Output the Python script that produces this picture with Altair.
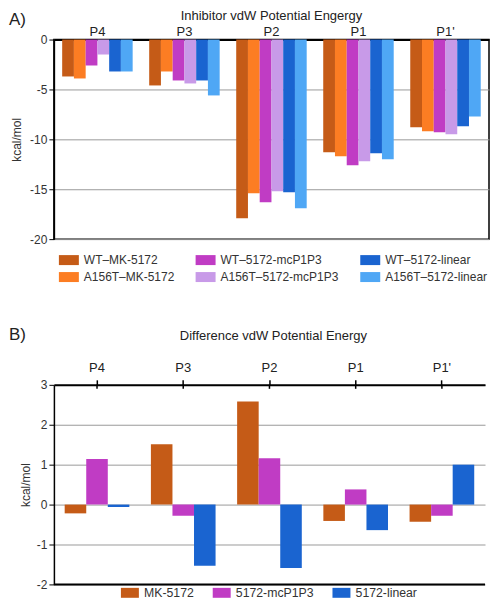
import altair as alt
import pandas as pd

positions = ["P4", "P3", "P2", "P1", "P1'"]

# Panel A: inhibitor vdW potential energy (kcal/mol)
series_a = ["WT–MK-5172", "A156T–MK-5172", "WT–5172-mcP1P3",
            "A156T–5172-mcP1P3", "WT–5172-linear", "A156T–5172-linear"]
wt_mk = [-3.7, -4.6, -17.9, -11.3, -8.8]
a156t_mk = [-3.9, -3.2, -15.4, -11.7, -9.2]
wt_mc = [-2.6, -4.1, -16.3, -12.6, -9.3]
a156t_mc = [-1.5, -4.4, -15.2, -12.2, -9.5]
wt_lin = [-3.2, -4.1, -15.3, -11.4, -8.7]
a156t_lin = [-3.2, -5.6, -16.9, -12.0, -7.7]
colors_a = ["#c55b17", "#fc7d23", "#c03cc4", "#c89ae8", "#1a64d0", "#4fa7f5"]

# Panel B: difference vdW potential energy (kcal/mol)
series_b = ["MK-5172", "5172-mcP1P3", "5172-linear"]
diff_mk = [-0.22, 1.51, 2.58, -0.41, -0.43]
diff_mc = [1.14, -0.28, 1.16, 0.38, -0.28]
diff_lin = [-0.06, -1.53, -1.59, -0.64, 1.0]
colors_b = ["#c55b17", "#c03cc4", "#1a64d0"]

panel_labels = ["A)", "B)"]
titles = ["Inhibitor vdW Potential Engergy", "Difference vdW Potential Energy"]

FONT = "Liberation Sans"

rows_a = []
for s, vals in zip(series_a, [wt_mk, a156t_mk, wt_mc, a156t_mc, wt_lin, a156t_lin]):
    for p, v in zip(positions, vals):
        rows_a.append({"pos": p, "series": s, "value": v})
df_a = pd.DataFrame(rows_a)

rows_b = []
for s, vals in zip(series_b, [diff_mk, diff_mc, diff_lin]):
    for p, v in zip(positions, vals):
        rows_b.append({"site": p, "compound": s, "diff": v})
df_b = pd.DataFrame(rows_b)

WA, HA = 436, 200
WB, HB = 432, 200


def text_layer(label, x, y, size, align):
    return alt.Chart(pd.DataFrame({"t": [label]})).mark_text(
        align=align, baseline="middle", fontSize=size, font=FONT, color="#222"
    ).encode(x=alt.value(x), y=alt.value(y), text="t:N")


bars_a = alt.Chart(df_a).mark_bar().encode(
    x=alt.X("pos:N", sort=positions, title=None,
            scale=alt.Scale(paddingInner=0.19, paddingOuter=0.095),
            axis=alt.Axis(orient="top", ticks=False, labelAngle=0, labelFontSize=13,
                          labelColor="#222", labelPadding=1, domainColor="black",
                          domainWidth=2, labelFont=FONT)),
    xOffset=alt.XOffset("series:N", sort=series_a,
                        scale=alt.Scale(paddingInner=0, paddingOuter=0)),
    y=alt.Y("value:Q", title="kcal/mol",
            scale=alt.Scale(domain=[-20, 0], nice=False),
            axis=alt.Axis(values=[0, -5, -10, -15, -20], labelFontSize=12, labelColor="#333",
                          labelPadding=2, tickSize=5, tickColor="black", domainColor="black",
                          domainWidth=1.5, gridColor="#9a9a9a", titleFontSize=12,
                          titleFontWeight="normal", titleColor="#333", titlePadding=6,
                          labelOverlap=False,
                          labelExpr="replace(datum.label, '\u2212', '-')")),
    color=alt.Color("series:N",
                    scale=alt.Scale(domain=series_a, range=colors_a),
                    legend=alt.Legend(title=None, orient="none", legendX=8, legendY=214,
                                      columns=3, columnPadding=20, rowPadding=4, padding=0,
                                      symbolType="M-1.5,-0.75H1.5V0.75H-1.5Z",
                                      symbolSize=178, symbolStrokeWidth=0, labelOffset=8,
                                      labelFontSize=12, labelColor="#333", labelFont=FONT)),
)

chart_a = alt.layer(
    bars_a,
    text_layer(panel_labels[0], -45, -20, 17, "left"),
    text_layer(titles[0], WA / 2, -24, 13, "center"),
).properties(
    width=WA, height=HA,
    view=alt.ViewBackground(stroke="black", strokeWidth=1.5),
)

bars_b = alt.Chart(df_b).mark_bar().encode(
    x=alt.X("site:N", sort=positions, title=None,
            scale=alt.Scale(paddingInner=0.25, paddingOuter=0.125),
            axis=alt.Axis(orient="top", ticks=True, tickSize=5, tickColor="black",
                          tickWidth=1.5, labelAngle=0, labelFontSize=13,
                          labelColor="#222", labelPadding=5, domainColor="black",
                          domainWidth=2, labelFont=FONT)),
    xOffset=alt.XOffset("compound:N", sort=series_b,
                        scale=alt.Scale(paddingInner=0, paddingOuter=0)),
    y=alt.Y("diff:Q", title="kcal/mol",
            scale=alt.Scale(domain=[-2, 3], nice=False),
            axis=alt.Axis(values=[3, 2, 1, 0, -1, -2], labelFontSize=12, labelColor="#333",
                          labelPadding=2, tickSize=5, tickColor="black", domainColor="black",
                          domainWidth=1.5, gridColor="#9a9a9a", titleFontSize=12,
                          titleFontWeight="normal", titleColor="#333", titlePadding=4,
                          labelOverlap=False,
                          labelExpr="replace(datum.label, '\u2212', '-')")),
    color=alt.Color("compound:N",
                    scale=alt.Scale(domain=series_b, range=colors_b),
                    legend=alt.Legend(title=None, orient="none", legendX=70, legendY=202,
                                      direction="horizontal", columnPadding=18, padding=0,
                                      symbolType="M-1.5,-0.83H1.5V0.83H-1.5Z",
                                      symbolSize=144, symbolStrokeWidth=0, labelOffset=8,
                                      labelFontSize=12.3, labelColor="#333", labelFont=FONT)),
)

# short inward halves of the top-axis ticks (decoration, pixel positions)
ticks_in = alt.Chart(pd.DataFrame({"site": positions})).mark_rule(
    color="black", strokeWidth=1.5
).encode(x=alt.X("site:N", sort=positions), y=alt.value(0), y2=alt.value(4))

# bottom frame line of panel B
bottom_b = alt.Chart(pd.DataFrame({"site": positions[:1]})).mark_rule(
    color="black", strokeWidth=2
).encode(y=alt.value(HB), x=alt.value(0), x2=alt.value(WB))

chart_b = alt.layer(
    bars_b, ticks_in, bottom_b,
    text_layer(panel_labels[1], -45, -50, 17, "left"),
    text_layer(titles[1], WB / 2 + 4, -49, 13, "center"),
).properties(
    width=WB, height=HB,
    view=alt.ViewBackground(stroke=None),
)

chart = alt.vconcat(chart_a, chart_b, spacing=42).resolve_scale(
    x="independent", y="independent", color="independent", xOffset="independent"
).resolve_legend(color="independent").properties(
    padding={"left": 0, "top": 0, "right": 0, "bottom": 0}
).configure(font=FONT).configure_view(stroke=None)

chart.save("out.html", embed_options={"renderer": "svg", "actions": False})
